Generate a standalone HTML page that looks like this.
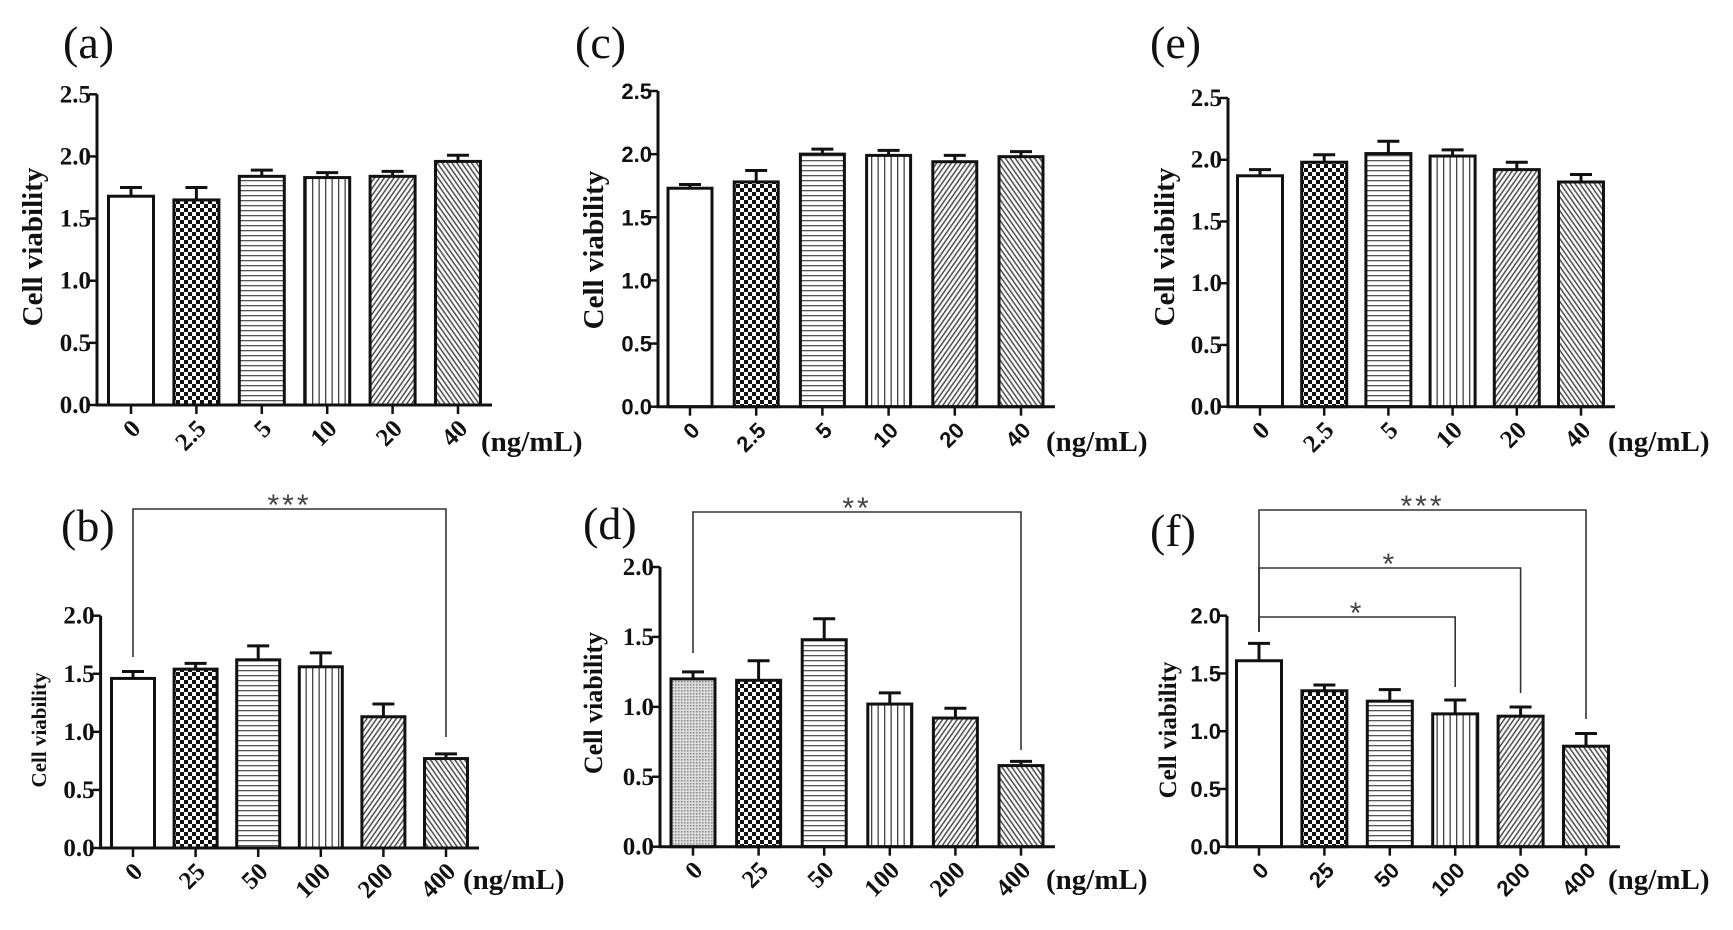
<!DOCTYPE html>
<html><head><meta charset="utf-8">
<style>
html,body{margin:0;padding:0;background:#fff;}
svg{display:block;}
.tick{font-family:"Liberation Serif",serif;font-weight:bold;font-size:25px;fill:#111;}
.tickS{font-family:"Liberation Sans Narrow","Liberation Sans",sans-serif;font-weight:bold;font-size:22px;fill:#111;}
.ytitle{font-family:"Liberation Serif",serif;font-weight:bold;fill:#111;}
.plabel{font-family:"Liberation Serif",serif;font-size:46px;fill:#111;}
.unit{font-family:"Liberation Serif",serif;font-weight:bold;font-size:29px;fill:#111;}
.star{font-family:"Liberation Sans",sans-serif;font-size:30px;fill:#444;letter-spacing:3px;}
</style></head>
<body>
<svg id="fig" width="1733" height="930" viewBox="0 0 1733 930" xmlns="http://www.w3.org/2000/svg">
<defs>
<pattern id="p-check" width="8" height="8" patternUnits="userSpaceOnUse"><rect width="8" height="8" fill="#fff"/><rect width="4" height="4" fill="#111"/><rect x="4" y="4" width="4" height="4" fill="#111"/></pattern>
<pattern id="p-horiz" width="6" height="5" patternUnits="userSpaceOnUse"><rect width="6" height="5" fill="#fff"/><rect y="0" width="6" height="1.3" fill="#555"/></pattern>
<pattern id="p-vert" width="6.5" height="6" patternUnits="userSpaceOnUse"><rect width="6.5" height="6" fill="#fff"/><rect x="0" width="1.3" height="6" fill="#444"/></pattern>
<pattern id="p-fwd" width="4" height="4" patternUnits="userSpaceOnUse" patternTransform="rotate(35)"><rect width="4" height="4" fill="#fff"/><rect width="1.6" height="4" fill="#555"/></pattern>
<pattern id="p-back" width="4" height="4" patternUnits="userSpaceOnUse" patternTransform="rotate(-35)"><rect width="4" height="4" fill="#fff"/><rect width="1.6" height="4" fill="#555"/></pattern>
<pattern id="p-dots" width="3" height="3" patternUnits="userSpaceOnUse"><rect width="3" height="3" fill="#ddd"/><rect width="1.5" height="1.5" fill="#888"/></pattern>
</defs>
</svg>
<script>
// ---- data ----
const aCats = ["0","2.5","5","10","20","40"];
const aVals = [1.68,1.65,1.84,1.83,1.84,1.96];
const aErrs = [0.07,0.10,0.05,0.04,0.04,0.05];
const bCats = ["0","25","50","100","200","400"];
const bVals = [1.46,1.54,1.62,1.56,1.13,0.77];
const bErrs = [0.06,0.05,0.12,0.12,0.11,0.04];
const cCats = ["0","2.5","5","10","20","40"];
const cVals = [1.73,1.78,2.00,1.99,1.94,1.98];
const cErrs = [0.03,0.09,0.04,0.04,0.05,0.04];
const dCats = ["0","25","50","100","200","400"];
const dVals = [1.20,1.19,1.48,1.02,0.92,0.58];
const dErrs = [0.05,0.14,0.15,0.08,0.07,0.03];
const eCats = ["0","2.5","5","10","20","40"];
const eVals = [1.87,1.98,2.05,2.03,1.92,1.82];
const eErrs = [0.05,0.06,0.10,0.05,0.06,0.06];
const fCats = ["0","25","50","100","200","400"];
const fVals = [1.61,1.35,1.26,1.15,1.13,0.87];
const fErrs = [0.15,0.05,0.10,0.12,0.08,0.11];
const yTicksTop = [0,0.5,1.0,1.5,2.0,2.5];
const yTicksBottom = [0,0.5,1.0,1.5,2.0];

const NS="http://www.w3.org/2000/svg";
const svg=document.getElementById('fig');
function mk(tag,attrs,parent){const e=document.createElementNS(NS,tag);for(const k in attrs)e.setAttribute(k,attrs[k]);(parent||svg).appendChild(e);return e;}

const panels=[
 {id:'a',cats:aCats,vals:aVals,errs:aErrs,ticks:yTicksTop,yMax:2.5,ax:97,y0:405,yTop:94.3,t0:131,dt:65.4,bw:45,end:492,tf:'tick',fills:['#fff','url(#p-check)','url(#p-horiz)','url(#p-vert)','url(#p-fwd)','url(#p-back)'],lab:[63,58],yt:[42,247,29],unit:[481,451],brackets:[]},
 {id:'b',cats:bCats,vals:bVals,errs:bErrs,ticks:yTicksBottom,yMax:2.0,ax:100.6,y0:848,yTop:615.7,t0:133,dt:62.6,bw:43,end:479,tf:'tick',fills:['#fff','url(#p-check)','url(#p-horiz)','url(#p-vert)','url(#p-fwd)','url(#p-back)'],lab:[61,541],yt:[46,730,21],unit:[463,889],brackets:[{i:5,y:509,l:657,r:737,s:'***'}]},
 {id:'c',cats:cCats,vals:cVals,errs:cErrs,ticks:yTicksTop,yMax:2.5,ax:658,y0:406.7,yTop:91,t0:690,dt:66.2,bw:44,end:1055,tf:'tickS',fills:['#fff','url(#p-check)','url(#p-horiz)','url(#p-vert)','url(#p-fwd)','url(#p-back)'],lab:[575,58],yt:[603,250,29],unit:[1046,451],brackets:[]},
 {id:'d',cats:dCats,vals:dVals,errs:dErrs,ticks:yTicksBottom,yMax:2.0,ax:660,y0:846.7,yTop:567,t0:693,dt:65.6,bw:44,end:1055,tf:'tick',fills:['url(#p-dots)','url(#p-check)','url(#p-horiz)','url(#p-vert)','url(#p-fwd)','url(#p-back)'],lab:[583,539],yt:[602,703,26],unit:[1046,889],brackets:[{i:5,y:512,l:653,r:750,s:'**'}]},
 {id:'e',cats:eCats,vals:eVals,errs:eErrs,ticks:yTicksTop,yMax:2.5,ax:1228,y0:406.7,yTop:98,t0:1260,dt:64.2,bw:45,end:1615,tf:'tick',fills:['#fff','url(#p-check)','url(#p-horiz)','url(#p-vert)','url(#p-fwd)','url(#p-back)'],lab:[1150,58],yt:[1174,247,29],unit:[1608,451],brackets:[]},
 {id:'f',cats:fCats,vals:fVals,errs:fErrs,ticks:yTicksBottom,yMax:2.0,ax:1227,y0:846.7,yTop:615.7,t0:1259,dt:65.4,bw:45,end:1620,tf:'tickS',fills:['#fff','url(#p-check)','url(#p-horiz)','url(#p-vert)','url(#p-fwd)','url(#p-back)'],lab:[1150,546],yt:[1176,730,25],unit:[1608,889],brackets:[{i:5,y:510,l:632,r:719,s:'***'},{i:4,y:568,l:632,r:693,s:'*'},{i:3,y:617,l:632,r:687,s:'*'}]}
];

panels.forEach(p=>{
  const g=mk('g',{});
  
  
  const ys=v=>p.y0-v*(p.y0-p.yTop)/p.yMax;
  const xs=i=>p.t0+i*p.dt;
  const pl=mk('text',{x:p.lab[0],y:p.lab[1],class:'plabel'},g);pl.textContent='('+p.id+')';
  
  
  const yt=mk('text',{x:p.yt[0],y:p.yt[1],class:'ytitle','font-size':p.yt[2],'text-anchor':'middle',transform:`rotate(-90 ${p.yt[0]} ${p.yt[1]})`},g);
  yt.textContent='Cell viability';
  
  
  p.vals.forEach((v,i)=>{
    const x=xs(i),top=ys(v),et=ys(v+p.errs[i]);
    const eb=mk('g',{},g);
    
    
    mk('line',{x1:x,x2:x,y1:top,y2:et,stroke:'#111','stroke-width':3},eb);
    mk('line',{x1:x-11,x2:x+11,y1:et,y2:et,stroke:'#111','stroke-width':3},eb);
    const r=mk('rect',{x:x-p.bw/2,y:top,width:p.bw,height:p.y0-top,fill:p.fills[i],stroke:'#111','stroke-width':3},g);
    
    
    mk('line',{x1:x,x2:x,y1:p.y0,y2:p.y0+9,stroke:'#111','stroke-width':2.5},g);
    const tl=mk('text',{x:x+11,y:p.y0+25,class:p.tf,'text-anchor':'end',transform:`rotate(-45 ${x+11} ${p.y0+25})`},g);
    tl.textContent=p.cats[i];
    
    
  });
  const ax=mk('path',{d:`M${p.ax} ${p.yTop} V${p.y0} H${p.end}`,fill:'none',stroke:'#111','stroke-width':3},g);
  
  
  p.ticks.forEach(t=>{
    const y=ys(t);
    mk('line',{x1:p.ax-8,x2:p.ax,y1:y,y2:y,stroke:'#111','stroke-width':2.5},g);
    const tt=mk('text',{x:p.ax-6,y:y+8,class:p.tf,'text-anchor':'end'},g);
    tt.textContent=t.toFixed(1);
    
    
  });
  const u=mk('text',{x:p.unit[0],y:p.unit[1],class:'unit'},g);u.textContent='(ng/mL)';
  
  
  p.brackets.forEach(b=>{
    const x1=xs(0),x2=xs(b.i);
    const bg=mk('g',{},g);
    
    
    mk('path',{d:`M${x1} ${b.l} V${b.y} H${x2} V${b.r}`,fill:'none',stroke:'#333','stroke-width':1.6},bg);
    const s=mk('text',{x:(x1+x2)/2,y:b.y+6,class:'star','text-anchor':'middle'},bg);
    s.textContent=b.s;
  });
});
</script>
</body></html>
